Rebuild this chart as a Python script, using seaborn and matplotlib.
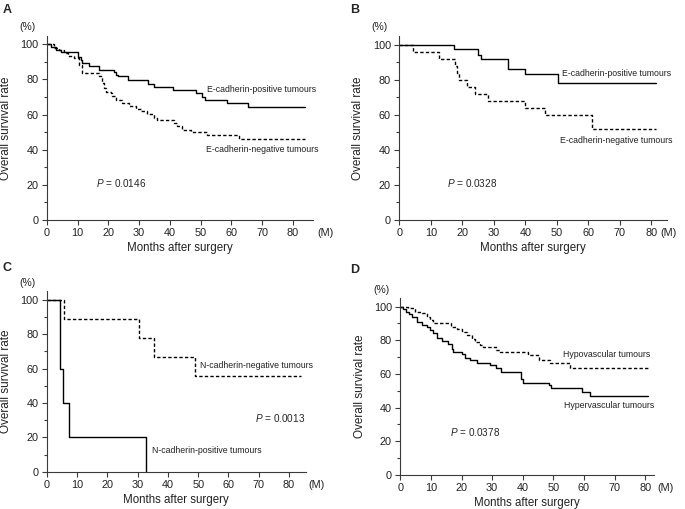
import pandas as pd
import matplotlib
matplotlib.use('Agg')
import matplotlib.pyplot as plt
import seaborn as sns
from matplotlib.ticker import MultipleLocator

sns.set_style('ticks')
plt.rcParams['font.family'] = ['Liberation Sans', 'DejaVu Sans']
plt.rcParams['mathtext.fontset'] = 'custom'
plt.rcParams['mathtext.it'] = 'Liberation Sans:italic'
plt.rcParams['mathtext.rm'] = 'Liberation Sans'

# A: E-cadherin (cohort 1)
a_pos_t = [0, 1.5, 3, 4.5, 10, 11, 11.5, 13.7, 17, 21.9, 22.5, 23, 26.5, 33, 34.8, 41, 48.5, 50.5, 51.5, 58.4, 65.5, 84]
a_pos_s = [100, 98.5, 97, 95.5, 93, 91, 89.6, 87.5, 85.6, 84, 82.5, 81.8, 79.5, 77.5, 75.7, 73.8, 72, 70, 68.3, 66.5, 64.5, 64.5]
a_neg_t = [0, 2.4, 4, 5.6, 7, 8.9, 10.5, 11.6, 17, 18.1, 18.6, 19.2, 20.8, 21.3, 22.4, 24.6, 26.7, 28.9, 30.5, 32.7,
           34.8, 35.9, 41.3, 42.4, 43.8, 47, 52, 62.5, 84]
a_neg_s = [100, 98, 96.5, 95, 93.5, 92, 88, 83.7, 81.8, 78, 75, 73, 72, 70.4, 68.5, 66.6, 64.7, 63, 61.9, 60.3,
           58, 57, 55.2, 53.3, 51, 50.3, 48.4, 46, 46]

# B: E-cadherin (cohort 2)
b_pos_t = [0, 17.5, 25.1, 26.1, 34.4, 39.8, 50.5, 81.5]
b_pos_s = [100, 97.5, 94.3, 92, 86.3, 83.2, 78.3, 78.3]
b_neg_t = [0, 4.5, 12.5, 17.6, 18.3, 18.9, 21.4, 24.1, 28.3, 39.9, 46.3, 61.3, 81.5]
b_neg_s = [100, 96, 92, 88, 84, 80, 76, 72, 68, 64, 60, 52, 52]

# C: N-cadherin
c_pos_t = [0, 4.3, 5.5, 7.3, 32.8]
c_pos_s = [100, 60, 40, 20, 0]
c_neg_t = [0, 5.7, 30.4, 35.4, 48.8, 84]
c_neg_s = [100, 88.9, 77.8, 66.7, 55.6, 55.6]

# D: vascularity
d_hyper_t = [0, 1, 2, 3, 3.7, 5.3, 7, 8.6, 9.7, 10.8, 11.9, 13.5, 15.7, 16.8, 17.3, 20, 21, 22.7, 24.9, 29.3,
             31.4, 33, 39.3, 40.2, 48.5, 49.1, 59.2, 62, 81]
d_hyper_s = [100, 98.5, 97, 95.5, 94, 91, 89, 88, 86, 84, 81.5, 79.5, 78, 75, 73, 72, 69.5, 68, 66.3, 65,
             63.5, 61.3, 57, 54.7, 53.3, 51.5, 49.5, 47, 47]
d_hypo_t = [0, 1.5, 2.6, 4.8, 7, 8.6, 9.7, 10.8, 16.6, 18.4, 20, 21.7, 23.3, 24.4, 26, 27.1, 31.4, 32.5,
            41.8, 45.2, 48.9, 55.4, 81]
d_hypo_s = [100, 99.5, 99, 97, 96, 94, 92, 90.5, 88, 86.5, 85, 83, 81, 79, 77, 76, 74, 73,
            71.3, 68.3, 66.3, 63.4, 63.4]

SOLID = '-'
DASHED = (0, (2.4, 1.6))
AXCOL = '#3a3a3a'
TXTCOL = '#222222'


def draw_panel(ax, curves, labels, pval, pval_xy, xmax, ymax, m_x):
    """画一个生存曲线面板"""
    for t, s, ls in curves:
        df = pd.DataFrame({'t': t, 's': s})
        sns.lineplot(data=df, x='t', y='s', ax=ax, drawstyle='steps-post', color='black',
                     lw=1.0, linestyle=ls, estimator=None, sort=False)
    for txt, (x, y) in labels:
        ax.text(x, y, txt, fontsize=6.3, ha='left', va='center', color=TXTCOL)
    ax.text(pval_xy[0], pval_xy[1], '$P$ = ' + pval, fontsize=7.2, ha='left', va='center')

    ax.set_xlim(0, xmax)
    ax.set_ylim(0, ymax)
    ax.set_xticks(range(0, 81, 10))
    ax.set_yticks(range(0, 101, 20))
    ax.yaxis.set_minor_locator(MultipleLocator(10))
    ax.tick_params(which='major', length=3.5, width=0.8, pad=2.5, labelsize=7.8, colors=AXCOL,
                   labelcolor=TXTCOL)
    ax.tick_params(which='minor', length=2.5, width=0.8, colors=AXCOL)
    for side in ['top', 'right']:
        ax.spines[side].set_visible(False)
    for side in ['left', 'bottom']:
        ax.spines[side].set_color(AXCOL)
        ax.spines[side].set_linewidth(0.8)
    ax.set_xlabel('Months after surgery', fontsize=8.3, labelpad=3, color=TXTCOL)
    ax.set_ylabel('Overall survival rate', fontsize=8.5, labelpad=6, color=TXTCOL)
    ax.text(-6.3, 110, '(%)', fontsize=7.5, ha='center', va='center', clip_on=False, color=TXTCOL)
    ax.annotate('(M)', xy=(m_x, 0), xycoords='data', xytext=(0, -6), textcoords='offset points',
                ha='center', va='top', fontsize=7.8, color=TXTCOL, annotation_clip=False)


fig = plt.figure(figsize=(6.85, 5.09), dpi=100)

ax_a = fig.add_axes([0.0682, 0.5678, 0.3888, 0.3615])
ax_b = fig.add_axes([0.5829, 0.5678, 0.3908, 0.3615])
ax_c = fig.add_axes([0.0682, 0.0733, 0.3785, 0.3550])
ax_d = fig.add_axes([0.5844, 0.0668, 0.3700, 0.3472])

draw_panel(ax_a, [(a_pos_t, a_pos_s, SOLID), (a_neg_t, a_neg_s, DASHED)],
           [('E-cadherin-positive tumours', (52, 74)), ('E-cadherin-negative tumours', (51.7, 40.2))],
           '0.0146', (16, 21), 86.5, 104.7, 90.4)
draw_panel(ax_b, [(b_pos_t, b_pos_s, SOLID), (b_neg_t, b_neg_s, DASHED)],
           [('E-cadherin-positive tumours', (51.6, 83.4)), ('E-cadherin-negative tumours', (51.1, 45.3))],
           '0.0328', (15, 21.3), 85, 105.1, 85.5)
draw_panel(ax_c, [(c_pos_t, c_pos_s, SOLID), (c_neg_t, c_neg_s, DASHED)],
           [('N-cadherin-negative tumours', (50.6, 61.6)), ('N-cadherin-positive tumours', (34.9, 12.6))],
           '0.0013', (68.7, 31), 85.6, 105.2, 89.2)
draw_panel(ax_d, [(d_hyper_t, d_hyper_s, SOLID), (d_hypo_t, d_hypo_s, DASHED)],
           [('Hypovascular tumours', (53, 71.3)), ('Hypervascular tumours', (53.4, 41))],
           '0.0378', (16.3, 25.7), 82.8, 104.9, 86.6)

for letter, (x, y) in zip('ABCD', [(0.0102, 0.980), (0.518, 0.980), (0.0102, 0.4735), (0.518, 0.4695)]):
    fig.text(x, y, letter, fontsize=9, fontweight='bold', ha='center', va='center')

fig.savefig('out.png', dpi=100)
